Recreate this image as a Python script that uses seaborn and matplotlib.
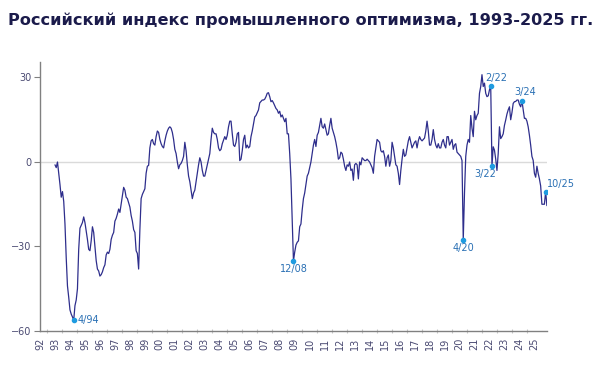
import numpy as np
import pandas as pd
import matplotlib
matplotlib.use("Agg")
import matplotlib.pyplot as plt
import seaborn as sns

# monthly values of the index, Jan 1993 .. Nov 2025
start_year = 1993
index_values = [
    -1, -2, 0, -4, -8, -12.5, -10.5, -14, -22, -34, -44, -48,            # 1993
    -52.5, -54, -55, -56.2, -51, -49, -45, -31, -23.5, -22.5, -21.5, -19.5,  # 1994
    -21.5, -24.5, -27.5, -31, -31.5, -28, -23, -25, -30, -35, -38, -38.7,  # 1995
    -40.5, -40, -39, -37.5, -36.5, -33, -32, -32.5, -31, -27.5, -26, -25,  # 1996
    -21, -20, -18.5, -16.7, -17.9, -15, -12, -9, -10, -12.5, -13, -14.5,   # 1997
    -16, -19, -21, -24, -25, -31.5, -32.5, -38, -24, -13, -11.5, -10.5,    # 1998
    -9.5, -4, -1.5, -1.2, 5, 7.5, 8, 6.5, 6, 9, 11, 10.5,                 # 1999
    8, 6.5, 5.5, 5, 7.5, 9.5, 11, 12, 12.5, 12, 10.5, 8,                   # 2000
    4.5, 3, 0, -2.4, -1, -0.5, 0.5, 2, 7, 4, -1, -5,                       # 2001
    -7, -10, -13, -11, -10, -7, -4, -1, 1.5, 0, -3, -5,                    # 2002
    -5, -3, -1, 1, 3, 8, 12, 10.5, 10, 10, 8, 5,                           # 2003
    4, 4.5, 6.5, 7.7, 9, 8, 9.5, 12.5, 14.5, 14.5, 10, 6,                  # 2004
    5.5, 7, 10, 10.5, 0.5, 1, 4, 8, 9.5, 5, 6, 5,                          # 2005
    5.5, 9, 11, 13.5, 16, 16.5, 17.5, 18.5, 21, 21.5, 22, 22,              # 2006
    22.3, 23.2, 24.4, 24.6, 23.2, 21.4, 21.8, 21, 20, 19, 18.5, 17.3,      # 2007
    18, 16, 16.7, 15.5, 14.3, 15.5, 10, 10, 3, -6, -21, -35.1,             # 2008
    -32, -29.5, -28.5, -28, -23, -22, -17, -13, -11, -8, -5, -4,           # 2009
    -2, 0, 3, 6, 8, 5.5, 9.5, 10.5, 13, 15.5, 12.5, 12,                    # 2010
    13.5, 11.5, 9.5, 10, 13, 15.5, 12, 10.5, 9, 7, 4.5, 1,                 # 2011
    1.5, 3.5, 3, 1, -1.5, -3, -1, -1.5, 0, -3, -2.5, -6.5,                 # 2012
    -1, -0.5, -1, -6, 0, -1, 1.5, 1, 0.5, 0.5, 1, 0.5,                     # 2013
    0, -1, -2, -4, 2, 5, 8, 7.5, 7, 4, 3.5, 4,                             # 2014
    2, -1.5, 1.5, 2.5, -1.5, 0.5, 7, 5, 2, -1, -1.5, -4,                   # 2015
    -8, -3, 1, 4.5, 2, 2.5, 5, 7.5, 9, 7, 5, 6,                            # 2016
    7, 7.5, 5, 7.5, 9, 8, 7.5, 8, 8.5, 11, 14.5, 11,                       # 2017
    6, 6, 8, 11.5, 8, 6, 5, 6.5, 5, 5, 7, 8,                               # 2018
    6, 5, 9, 9, 6, 7, 8, 4.5, 6, 6.5, 3.5, 3,                              # 2019
    2.5, 2, 0.5, -27.6, -11, 2, 6, 8, 7, 16.5, 12, 9,                      # 2020
    18, 15, 16.5, 17.3, 24.4, 26.8, 31, 26.8, 28, 24.4, 23.2, 23.5,        # 2021
    25.6, 27, -1.5, 5.4, 4.2, 1, -3, 3, 12.5, 8.3, 9, 10,                  # 2022
    13, 14.9, 17, 18.5, 19.6, 15, 17.5, 20.8, 21.4, 21.5, 22, 22,          # 2023
    20.5, 19.6, 21.7, 18.5, 15.5, 15.5, 14.5, 12.5, 9.5, 6, 2, 0.6,        # 2024
    -4, -5.4, -1.5, -4, -6, -8.5, -15, -15, -15, -10.5, -15.5,             # 2025
]

peak_labels = ["4/94", "12/08", "4/20", "2/22", "3/22", "3/24", "10/25"]
peak_years = [1994, 2008, 2020, 2022, 2022, 2024, 2025]
peak_months = [4, 12, 4, 2, 3, 3, 10]
year_ticks = list(range(1992, 2026))
year_labels = [str(y)[2:] for y in year_ticks]

t = start_year + np.arange(len(index_values)) / 12
df = pd.DataFrame({"t": t, "val": index_values})

sns.set_style("white")
plt.rcParams["font.family"] = ["DejaVu Sans"]

fig = plt.figure(figsize=(6.05, 3.67), dpi=100)
ax = fig.add_axes([40 / 605, 36 / 367, 507 / 605, 269 / 367])

ax.axhline(0, color="#dadada", lw=1, zorder=0)
sns.lineplot(data=df, x="t", y="val", ax=ax, color="#2e2e8c", linewidth=0.9)

# labelled points
offsets = {
    "4/94": ((3, 0), "left", "center"),
    "12/08": ((0, -2), "center", "top"),
    "4/20": ((0, -2), "center", "top"),
    "2/22": ((-4, 2), "left", "bottom"),
    "3/22": ((3, -2), "right", "top"),
    "3/24": ((2, 3), "center", "bottom"),
    "10/25": ((1, 2), "left", "bottom"),
}
for lab, yr, mo in zip(peak_labels, peak_years, peak_months):
    i = (yr - start_year) * 12 + (mo - 1)
    px, py = t[i], index_values[i]
    ax.plot(px, py, "o", color="#1e9be0", ms=3, zorder=5)
    off, ha, va = offsets[lab]
    ax.annotate(lab, (px, py), xytext=off, textcoords="offset points",
                ha=ha, va=va, fontsize=7, color="#2a70b4")

ax.set_xlim(1992.0, 2025.84)
ax.set_ylim(-60, 35.5)
ax.set_xticks(year_ticks)
ax.set_xticklabels(year_labels, rotation=90)
ax.set_xticks(np.array(year_ticks[:-1]) + 0.5, minor=True)
ax.set_yticks([-60, -30, 0, 30])
ax.set_xlabel("")
ax.set_ylabel("")

ax.tick_params(axis="x", which="major", direction="inout", length=6, width=0.8,
               color="#808080", labelsize=7, labelcolor="#4a4a72", pad=2)
ax.tick_params(axis="x", which="minor", direction="inout", length=3, width=0.8,
               color="#c8c8c8", bottom=True)
ax.tick_params(axis="y", direction="out", length=4, width=0.8, color="#808080",
               labelsize=7, labelcolor="#4a4a72", pad=2, left=True)

for s in ["top", "right"]:
    ax.spines[s].set_visible(False)
for s in ["left", "bottom"]:
    ax.spines[s].set_color("#808080")
    ax.spines[s].set_linewidth(1)

fig.text(8 / 605, 1 - 20 / 367, "Российский индекс промышленного оптимизма, 1993-2025 гг.",
         fontsize=11.6, fontweight="bold", color="#1b1b4b", ha="left", va="center")

fig.savefig("out.png", dpi=100)
